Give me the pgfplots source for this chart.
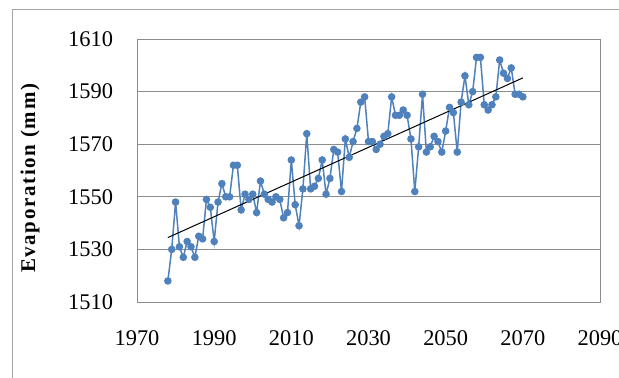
\documentclass[border=0pt]{standalone}
\usepackage{pgfplots}
\pgfplotsset{compat=1.18}
\usepackage{pgfplotstable}
\usepackage{fontspec}
\setmainfont{Liberation Serif}
\newfontfamily\labelfont[LetterSpace=8]{Liberation Serif}
\definecolor{series}{RGB}{79,129,189}
\definecolor{gridgray}{RGB}{140,140,140}
\definecolor{framegray}{RGB}{165,165,165}

% Annual evaporation, 1978-2070
\pgfplotstableread{
year evap
1978 1518
1979 1530
1980 1548
1981 1531
1982 1527
1983 1533
1984 1531
1985 1527
1986 1535
1987 1534
1988 1549
1989 1546
1990 1533
1991 1548
1992 1555
1993 1550
1994 1550
1995 1562
1996 1562
1997 1545
1998 1551
1999 1549
2000 1551
2001 1544
2002 1556
2003 1551
2004 1549
2005 1548
2006 1550
2007 1549
2008 1542
2009 1544
2010 1564
2011 1547
2012 1539
2013 1553
2014 1574
2015 1553
2016 1554
2017 1557
2018 1564
2019 1551
2020 1557
2021 1568
2022 1567
2023 1552
2024 1572
2025 1565
2026 1571
2027 1576
2028 1586
2029 1588
2030 1571
2031 1571
2032 1568
2033 1570
2034 1573
2035 1574
2036 1588
2037 1581
2038 1581
2039 1583
2040 1581
2041 1572
2042 1552
2043 1569
2044 1589
2045 1567
2046 1569
2047 1573
2048 1571
2049 1567
2050 1575
2051 1584
2052 1582
2053 1567
2054 1586
2055 1596
2056 1585
2057 1590
2058 1603
2059 1603
2060 1585
2061 1583
2062 1585
2063 1588
2064 1602
2065 1597
2066 1595
2067 1599
2068 1589
2069 1589
2070 1588
}\evapdata

\begin{document}
\begin{tikzpicture}
\useasboundingbox (0bp,0bp) rectangle (619bp,378bp);
\clip (0bp,0bp) rectangle (619bp,378bp);
\fill[white] (0bp,0bp) rectangle (619bp,378bp);
\draw[framegray, line width=1bp] (12bp,-10bp) rectangle (640bp,368bp);
\begin{axis}[
  at={(137bp,76bp)}, anchor=south west,
  scale only axis, width=463bp, height=263bp,
  xmin=1970, xmax=2090, ymin=1510, ymax=1610,
  xtick={1970,1990,...,2090},
  ytick={1510,1530,...,1610},
  ymajorgrids, grid style={gridgray, line width=0.9bp},
  axis line style={gridgray, line width=0.9bp},
  major tick length=0pt,
  tick label style={font=\fontsize{22.5}{26}\selectfont},
  /pgf/number format/1000 sep={},
  /pgf/number format/assume math mode=true,
  xticklabel style={yshift=-25bp},
  yticklabel style={xshift=-20.5bp},
  ylabel={Evaporation (mm)},
  ylabel style={font=\labelfont\bfseries\fontsize{21}{23}\selectfont,
    at={(axis description cs:-0.231,0.47)}, anchor=center},
  clip=false,
]
\addplot[series, line width=1.5bp, mark=*, mark size=3bp, mark options={fill=series, draw=series}]
  table[x=year, y=evap] {\evapdata};
\addplot[black, line width=1bp] coordinates {(1978,1534.5) (2070,1595.2)};
\end{axis}
\end{tikzpicture}
\end{document}
